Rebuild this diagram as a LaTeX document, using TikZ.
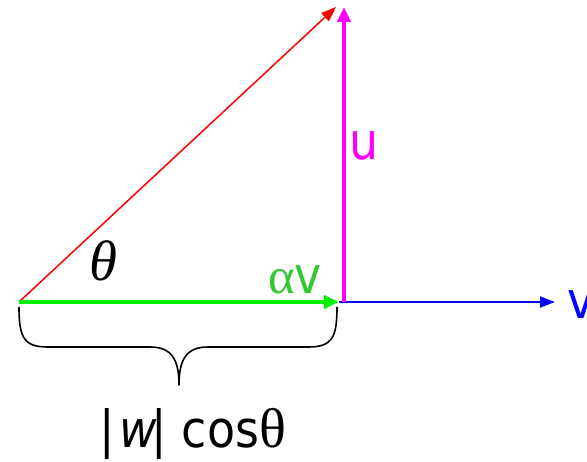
\documentclass[tikz,border=0pt]{standalone}
\usepackage{fontspec}
\usetikzlibrary{arrows.meta}
\newfontfamily\labfont{DejaVu Sans Condensed}
\newfontfamily\symfont{Liberation Serif}
\definecolor{vred}{RGB}{255,0,0}
\definecolor{vmag}{RGB}{255,0,255}
\definecolor{vblue}{RGB}{0,0,255}
\definecolor{vgreen}{RGB}{0,240,0}
\definecolor{vgreenlab}{RGB}{50,200,50}
\begin{document}
\begin{tikzpicture}[x=1pt,y=-1pt,
  lab/.style={inner sep=0pt,outer sep=0pt,font=\labfont\fontsize{51}{51}\selectfont},
  tipbig/.style={-{Triangle[length=15pt,width=13pt]}},
  tipsmall/.style={-{Triangle[length=15pt,width=11pt]}},
  brace/.style={line width=1.6pt,black,line join=round}]
\useasboundingbox (0,0) rectangle (587,462);
\coordinate (O) at (19,302);
\coordinate (A) at (339,302);
\coordinate (B) at (344,302);
\coordinate (U) at (344,7);
\coordinate (R) at (336,7);
\coordinate (V) at (555,302);
% red vector
\draw[vred,line width=1.5pt,tipsmall] (O) -- (R);
% blue v
\draw[vblue,line width=1.8pt,tipsmall] (A) -- (V);
% magenta u
\draw[vmag,line width=4pt,tipbig] (B) -- (U);
% green alpha v
\draw[vgreen,line width=4pt,tipbig] (O) -- (A);
% labels
\node[lab,anchor=base west,text=vmag] (ulab) at (349,160) {u};
\node[lab,anchor=base west,text=vblue] (vlab) at (567,319) {v};
\node[lab,anchor=base west,text=vgreenlab] (avlab) at (268,294) {{\symfont α}v};
\node[inner sep=0pt,anchor=base west,font=\symfont\itshape\fontsize{57}{57}\selectfont] (th) at (89,281) {θ};
% brace
\draw[brace] (19,307) .. controls (19,338) and (24,347) .. (48,347)
  -- (150,347) .. controls (172,347) and (179,360) .. (179,385)
  .. controls (179,360) and (186,347) .. (208,347)
  -- (308,347) .. controls (332,347) and (337,338) .. (337,307);
\node[lab,anchor=base west] (len) at (99,448) {|\kern5pt{\itshape w}\kern-5pt|~cos{\symfont\fontsize{56}{56}\selectfont θ}};
\end{tikzpicture}
\end{document}
